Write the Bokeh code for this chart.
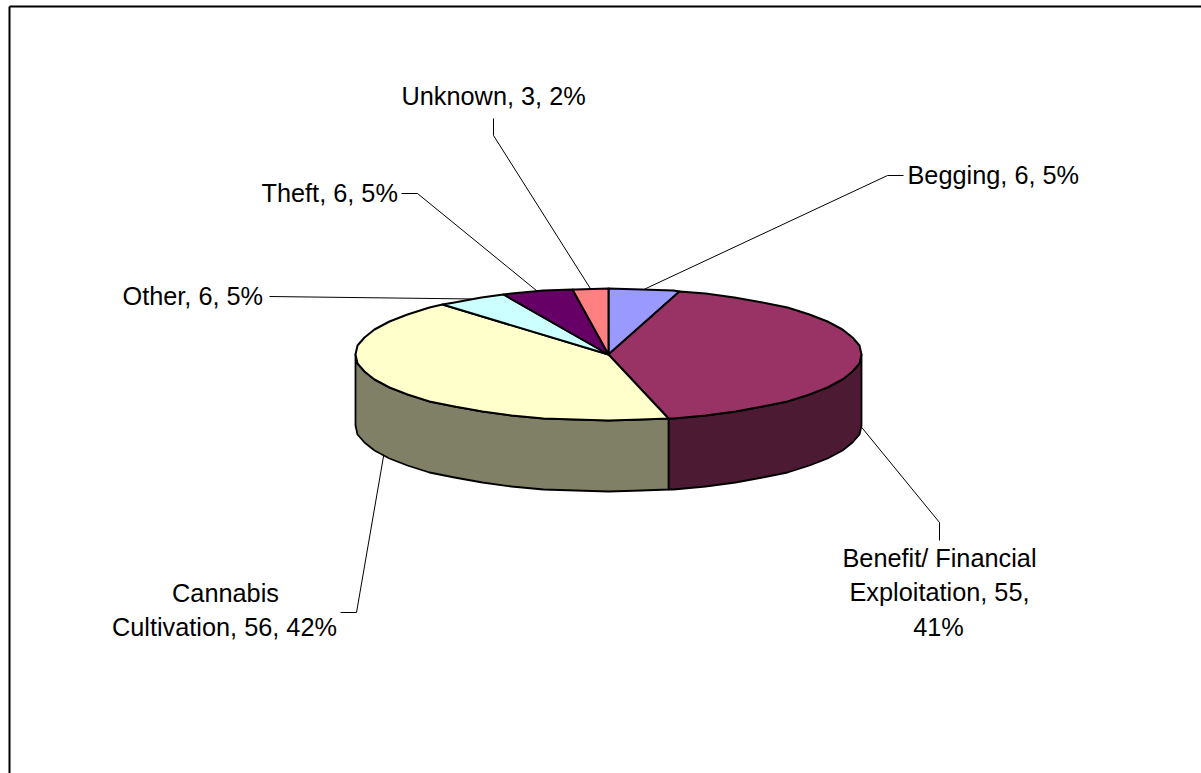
import numpy as np
from bokeh.plotting import figure
from bokeh.embed import file_html
from bokeh.resources import INLINE
from bokeh.core.properties import value

# --- data
categories = ["Begging", "Benefit/ Financial Exploitation", "Cannabis Cultivation", "Other", "Theft", "Unknown"]
counts = [6, 55, 56, 6, 6, 3]
percents = [5, 41, 42, 5, 5, 2]
top_colors = ["#9999FF", "#993366", "#FFFFCC", "#CCFFFF", "#660066", "#FF8080"]
side_colors = ["#4D4D80", "#4D1A33", "#808066", "#668080", "#330033", "#804040"]

# --- layout (page pixels)
W, H = 1201, 773
CX, CY, RX, RY, DEPTH = 608, 354, 253, 66, 71
FONT = "Liberation Sans"
FS = "25.3px"
STEP = np.radians(7.5)   # the reference's outline is a coarse polygon on whole pixels

label_lines = [
    [("Begging, 6, 5%", 907, 174, "left")],
    [("Benefit/ Financial", 939, 557, "center"), ("Exploitation, 55,", 939, 591, "center"), ("41%", 938, 626, "center")],
    [("Cannabis", 225, 592, "center"), ("Cultivation, 56, 42%", 224, 626, "center")],
    [("Other, 6, 5%", 122, 295, "left")],
    [("Theft, 6, 5%", 261, 192, "left")],
    [("Unknown, 3, 2%", 401, 95, "left")],
]
# leader line: points from the label side, ending at the slice's edge (computed)
leader_elbows = [
    [(903, 175), (887, 175)],
    [(939, 540), (939, 522)],
    [(340, 612), (356, 612)],
    [(269, 296)],
    [(401, 193), (417, 193)],
    [(493, 118), (493, 135)],
]
leader_on_wall = [False, True, True, False, False, False]

total = sum(counts)
edges = np.concatenate([[0], np.cumsum(counts)]) / total * 2 * np.pi


def ell(t, dy=0.0):
    t = np.asarray(t, dtype=float)
    return CX + RX * np.sin(t), CY - RY * np.cos(t) + dy


def arc(lo, hi):
    inner = np.arange(np.ceil(lo / STEP + 1e-6), np.floor(hi / STEP - 1e-6) + 1) * STEP
    return np.concatenate([[lo], inner, [hi]])


def px(v):
    return np.round(v).tolist()


p = figure(width=W, height=H, x_range=(0, W), y_range=(H, 0), toolbar_location=None,
           output_backend="svg", min_border=0, outline_line_color=None,
           margin=(0, 0, 0, 0), background_fill_color="white", border_fill_color="white")
p.axis.visible = False
p.grid.visible = False

# frame
p.multi_line([[9, W], [9, 9]], [[6, 6], [6, H]], line_color="black", line_width=2)

# side walls: the part of every slice that lies on the front half of the ellipse
wx, wy, wc = [], [], []
for a, b, c in zip(edges[:-1], edges[1:], side_colors):
    lo, hi = max(a, np.pi / 2), min(b, 3 * np.pi / 2)
    if hi <= lo:
        continue
    t = arc(lo, hi)
    x1, y1 = ell(t)
    x2, y2 = ell(t[::-1], DEPTH)
    wx.append(px(np.concatenate([x1, x2])))
    wy.append(px(np.concatenate([y1, y2])))
    wc.append(c)
p.patches(wx, wy, fill_color=wc, line_color="black", line_width=1.8, line_join="round")

# top faces
tx, ty = [], []
for a, b in zip(edges[:-1], edges[1:]):
    x, y = ell(arc(a, b))
    tx.append([CX] + px(x))
    ty.append([CY] + px(y))
p.patches(tx, ty, fill_color=top_colors, line_color="black", line_width=2, line_join="round")

# leader lines
lx, ly = [], []
for a, b, pts, wall in zip(edges[:-1], edges[1:], leader_elbows, leader_on_wall):
    ex, ey = ell((a + b) / 2, DEPTH if wall else 0)
    lx.append([q[0] for q in pts] + [float(ex)])
    ly.append([q[1] for q in pts] + [float(ey)])
p.multi_line(lx, ly, line_color="black", line_width=1)

# labels
for lines in label_lines:
    for txt, x, y, al in lines:
        p.text([x], [y], text=[txt], text_font=value(FONT), text_font_size=FS,
               text_color="black", text_align=al, text_baseline="middle")

open("out.html", "w").write(file_html(p, INLINE))
